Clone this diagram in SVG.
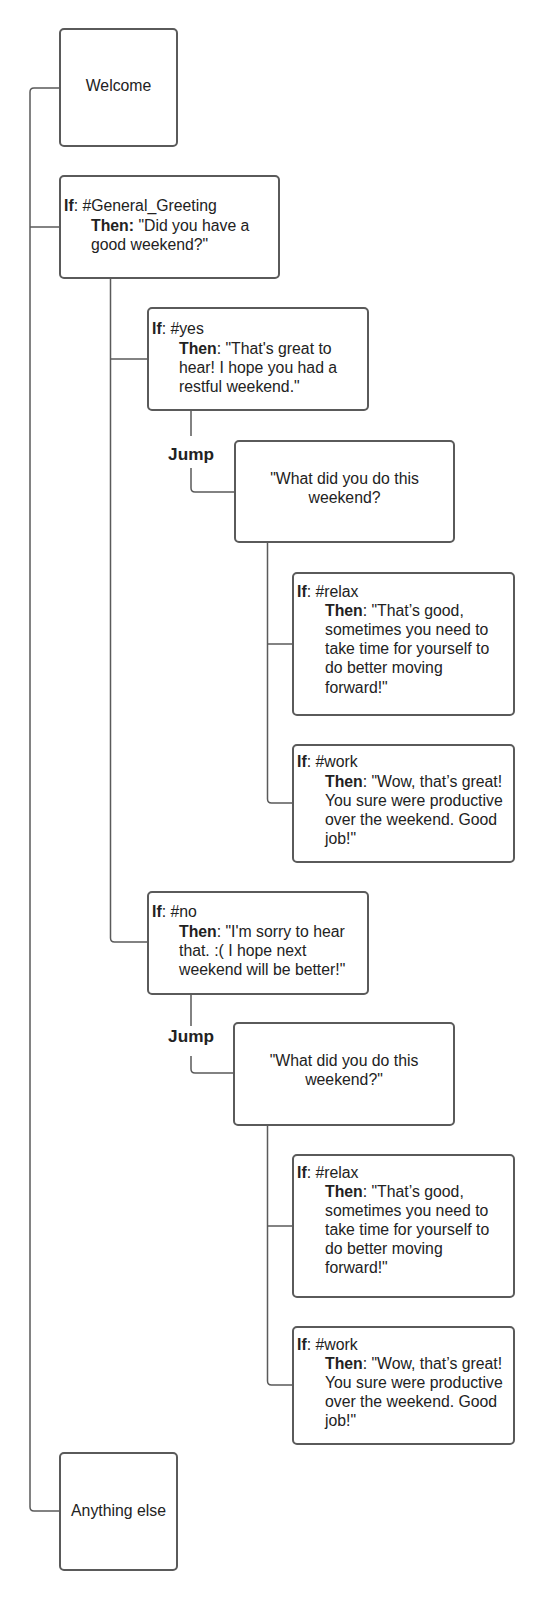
<svg xmlns="http://www.w3.org/2000/svg" width="543" height="1600" viewBox="0 0 543 1600">
<style>
.box{fill:#fff;stroke:#5a5a5a;stroke-width:2}
.conn{fill:none;stroke:#5a5a5a;stroke-width:1.5}
text{font-family:"Liberation Sans",Arial,sans-serif;font-size:15.8px;fill:#222}
.b{font-weight:bold}
.c{text-anchor:middle}
.j{font-size:17.2px}
</style>
<rect width="543" height="1600" fill="#fff"/>
<g id="connectors">
<path class="conn" d="M60 88 H34 Q30 88 30 92 V1507 Q30 1511 34 1511 H60"/>
<path class="conn" d="M30 227 H60"/>
<path class="conn" d="M110.5 278 V938 Q110.5 942 114.5 942 H148"/>
<path class="conn" d="M110.5 359 H148"/>
<path class="conn" d="M191 410 V436 M191 468 V488 Q191 492 195 492 H235"/>
<path class="conn" d="M267.5 542 V799 Q267.5 803 271.5 803 H293"/>
<path class="conn" d="M267.5 644 H293"/>
<path class="conn" d="M191 994 V1026 M191 1056 V1069 Q191 1073 195 1073 H234"/>
<path class="conn" d="M267.5 1125 V1381 Q267.5 1385 271.5 1385 H293"/>
<path class="conn" d="M267.5 1226 H293"/>
<text class="b c j" x="191" y="460">Jump</text>
<text class="b c j" x="191" y="1042">Jump</text>
</g>
<g id="welcome">
<rect class="box" x="60" y="29" width="117" height="117" rx="4"/>
<text class="c" x="118.5" y="91">Welcome</text>
</g>
<g id="general-greeting">
<rect class="box" x="60" y="176" width="219" height="102" rx="4"/>
<text x="64" y="211"><tspan class="b">If</tspan>: #General_Greeting</text>
<text x="91" y="231"><tspan class="b">Then:</tspan> "Did you have a</text>
<text x="91" y="250">good weekend?"</text>
</g>
<g id="yes">
<rect class="box" x="148" y="308" width="220" height="102" rx="4"/>
<text x="152" y="334"><tspan class="b">If</tspan>: #yes</text>
<text x="179" y="354"><tspan class="b">Then</tspan>: "That's great to</text>
<text x="179" y="373">hear! I hope you had a</text>
<text x="179" y="392">restful weekend."</text>
</g>
<g id="what1">
<rect class="box" x="235" y="441" width="219" height="101" rx="4"/>
<text class="c" x="344.5" y="484">"What did you do this</text>
<text class="c" x="344.5" y="503">weekend?</text>
</g>
<g id="relax1">
<rect class="box" x="293" y="573" width="221" height="142" rx="4"/>
<text x="297" y="597"><tspan class="b">If</tspan>: #relax</text>
<text x="325" y="616"><tspan class="b">Then</tspan>: "That’s good,</text>
<text x="325" y="635">sometimes you need to</text>
<text x="325" y="654">take time for yourself to</text>
<text x="325" y="673">do better moving</text>
<text x="325" y="693">forward!"</text>
</g>
<g id="work1">
<rect class="box" x="293" y="745" width="221" height="117" rx="4"/>
<text x="297" y="767"><tspan class="b">If</tspan>: #work</text>
<text x="325" y="787"><tspan class="b">Then</tspan>: "Wow, that’s great!</text>
<text x="325" y="806">You sure were productive</text>
<text x="325" y="825">over the weekend. Good</text>
<text x="325" y="844">job!"</text>
</g>
<g id="no">
<rect class="box" x="148" y="892" width="220" height="102" rx="4"/>
<text x="152" y="917"><tspan class="b">If</tspan>: #no</text>
<text x="179" y="937"><tspan class="b">Then</tspan>: "I'm sorry to hear</text>
<text x="179" y="956">that. :( I hope next</text>
<text x="179" y="975">weekend will be better!"</text>
</g>
<g id="what2">
<rect class="box" x="234" y="1023" width="220" height="102" rx="4"/>
<text class="c" x="344" y="1066">"What did you do this</text>
<text class="c" x="344" y="1085">weekend?"</text>
</g>
<g id="relax2">
<rect class="box" x="293" y="1155" width="221" height="142" rx="4"/>
<text x="297" y="1178"><tspan class="b">If</tspan>: #relax</text>
<text x="325" y="1197"><tspan class="b">Then</tspan>: "That’s good,</text>
<text x="325" y="1216">sometimes you need to</text>
<text x="325" y="1235">take time for yourself to</text>
<text x="325" y="1254">do better moving</text>
<text x="325" y="1273">forward!"</text>
</g>
<g id="work2">
<rect class="box" x="293" y="1327" width="221" height="117" rx="4"/>
<text x="297" y="1350"><tspan class="b">If</tspan>: #work</text>
<text x="325" y="1369"><tspan class="b">Then</tspan>: "Wow, that’s great!</text>
<text x="325" y="1388">You sure were productive</text>
<text x="325" y="1407">over the weekend. Good</text>
<text x="325" y="1426">job!"</text>
</g>
<g id="anything-else">
<rect class="box" x="60" y="1453" width="117" height="117" rx="4"/>
<text class="c" x="118.5" y="1516">Anything else</text>
</g>
</svg>
